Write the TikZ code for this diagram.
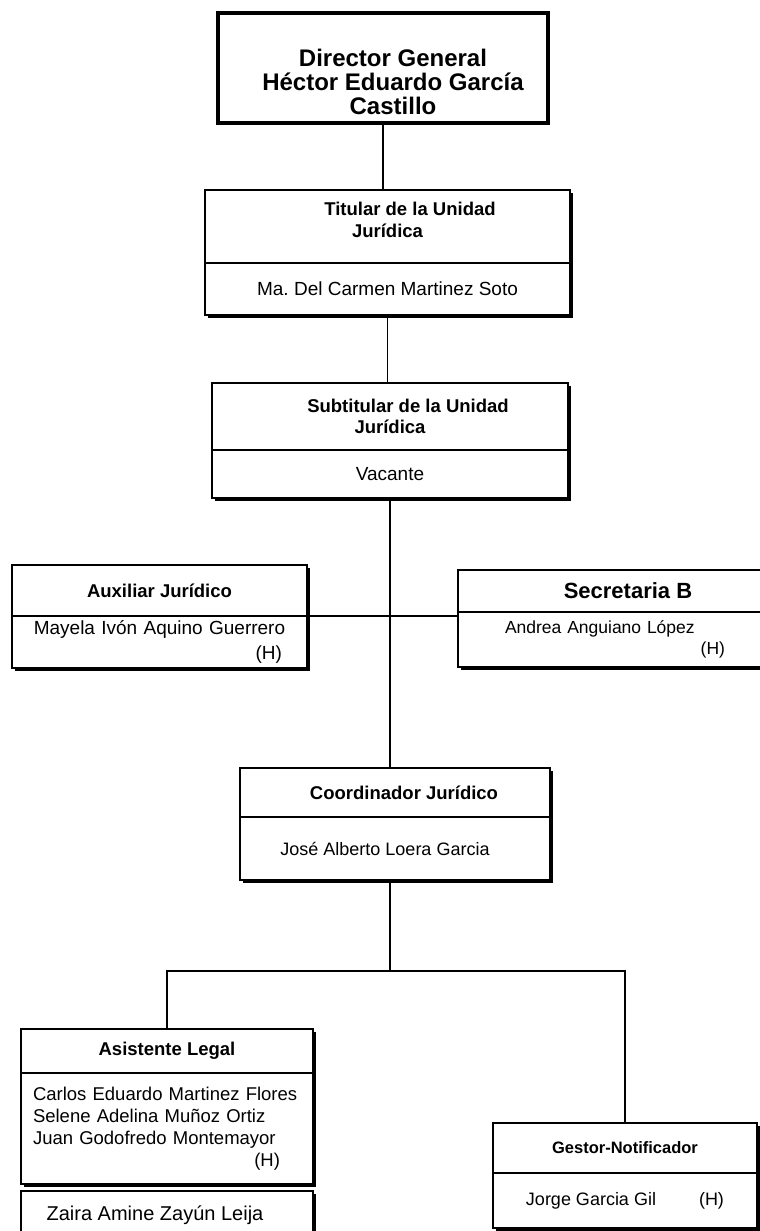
\documentclass[tikz,border=0pt]{standalone}
\usepackage{fontspec}
\setmainfont{Liberation Sans}
\usetikzlibrary{positioning,shadows}
\frenchspacing

\newcommand{\derecha}[1]{\hspace*{0pt plus 1filll}#1}

\tikzset{
  caja/.style={draw, line width=1.5pt, fill=white, inner sep=0pt, outer sep=0pt,
    drop shadow={shadow xshift=2.5pt, shadow yshift=-2.5pt, fill=black, opacity=1}},
  cabeza/.style={caja, align=center, font=\bfseries\fontsize{18.5}{21.5}\selectfont},
  cuerpo/.style={caja, font=\fontsize{19}{22}\selectfont},
  linea/.style={line width=1.2pt},
}

\begin{document}
\begin{tikzpicture}[x=1pt, y=-1pt]
  \useasboundingbox (0,0) rectangle (760,1231);
  \fill[white] (0,0) rectangle (760,1231);
  \clip (0,0) rectangle (760,1231);

  % Director General
  \node[draw, line width=4pt, minimum width=330pt, minimum height=110pt] (dir) at (383,68) {};
  \node[align=center, font=\bfseries\fontsize{24}{24}\selectfont] (dirtxt) at ([xshift=10pt, yshift=-14pt]dir.center) {Director General\\Héctor Eduardo García\\Castillo};

  % Titular de la Unidad
  \node[cabeza, minimum width=365pt, minimum height=73pt] (tit) at (387.5,226.5) {\hspace*{45pt}Titular de la Unidad\\Jurídica\\[-8pt]\mbox{}};
  \node[cuerpo, minimum width=365pt, minimum height=52pt, below=0pt of tit] (titb) {Ma. Del Carmen Martinez Soto};

  % Subtitular
  \node[cabeza, minimum width=356pt, minimum height=67pt] (sub) at (390,416.5) {\hspace*{36pt}Subtitular de la Unidad\\Jurídica};
  \node[cuerpo, minimum width=356pt, minimum height=48pt, below=0pt of sub] (subb) {Vacante};

  % Auxiliar y Secretaria
  \node[cabeza, minimum width=295pt, minimum height=51pt] (aux) at (159.5,590.5) {Auxiliar Jurídico};
  \node[cuerpo, minimum width=295pt, minimum height=52pt, text width=271pt, inner xsep=12pt, align=center, below=0pt of aux] (auxb) {Mayela Ivón Aquino Guerrero\\[3pt]\derecha{(H)}\hspace*{13pt}\mbox{}};

  \node[cabeza, minimum width=340pt, minimum height=42pt, font=\bfseries\fontsize{22}{24}\selectfont] (sec) at (628,591) {Secretaria B};
  \node[cuerpo, minimum width=340pt, minimum height=55pt, text width=246pt, inner xsep=47pt, align=left, below=0pt of sec, font=\fontsize{17.5}{21}\selectfont] (secb) {Andrea Anguiano López\\\derecha{(H)}\hspace*{26pt}\mbox{}};

  % Coordinador
  \node[cabeza, minimum width=310pt, minimum height=49pt] (coord) at (395,792.5) {\hspace*{18pt}Coordinador Jurídico};
  \node[cuerpo, minimum width=310pt, minimum height=63pt, below=0pt of coord, font=\fontsize{18}{21}\selectfont] (coordb) {José Alberto Loera Garcia\hspace*{20pt}};

  % Asistente Legal
  \node[cabeza, minimum width=292pt, minimum height=44pt] (asis) at (167,1051) {Asistente Legal};
  \node[cuerpo, minimum width=292pt, minimum height=111pt, text width=268pt, inner xsep=12pt, align=left, below=0pt of asis, font=\fontsize{18.5}{22}\selectfont] (asisb) {Carlos Eduardo Martinez Flores\\Selene Adelina Muñoz Ortiz\\Juan Godofredo Montemayor\\\derecha{(H)}\hspace*{21pt}\mbox{}};
  \node[cuerpo, minimum width=292pt, minimum height=69pt, text height=29pt, text depth=40pt, font=\fontsize{20}{22}\selectfont] (zaira) at (167,1225.5) {Zaira Amine Zayún Leija\hspace*{24pt}};

  % Gestor-Notificador
  \node[cabeza, minimum width=264pt, minimum height=50pt, font=\bfseries\fontsize{16.5}{20}\selectfont] (gest) at (625,1148) {Gestor-Notificador};
  \node[cuerpo, minimum width=264pt, minimum height=55pt, below=0pt of gest, font=\fontsize{18}{21}\selectfont] (gestb) {Jorge Garcia Gil\hspace*{43pt}(H)};

  % Conectores
  \draw[linea] (dir.south) -- (dir.south |- tit.north);
  \draw[linea] (titb.south) -- (titb.south |- sub.north);
  \draw[linea] (subb.south) -- (subb.south |- coord.north);
  \draw[linea] (auxb.north east) -- (auxb.north east -| secb.west);
  \coordinate (nudo) at ([yshift=-91pt]coordb.south -| subb.south);
  \draw[linea] (nudo |- coordb.south) -- (nudo);
  \draw[linea] (asis.north) |- (nudo) -| (gest.north);
\end{tikzpicture}
\end{document}
